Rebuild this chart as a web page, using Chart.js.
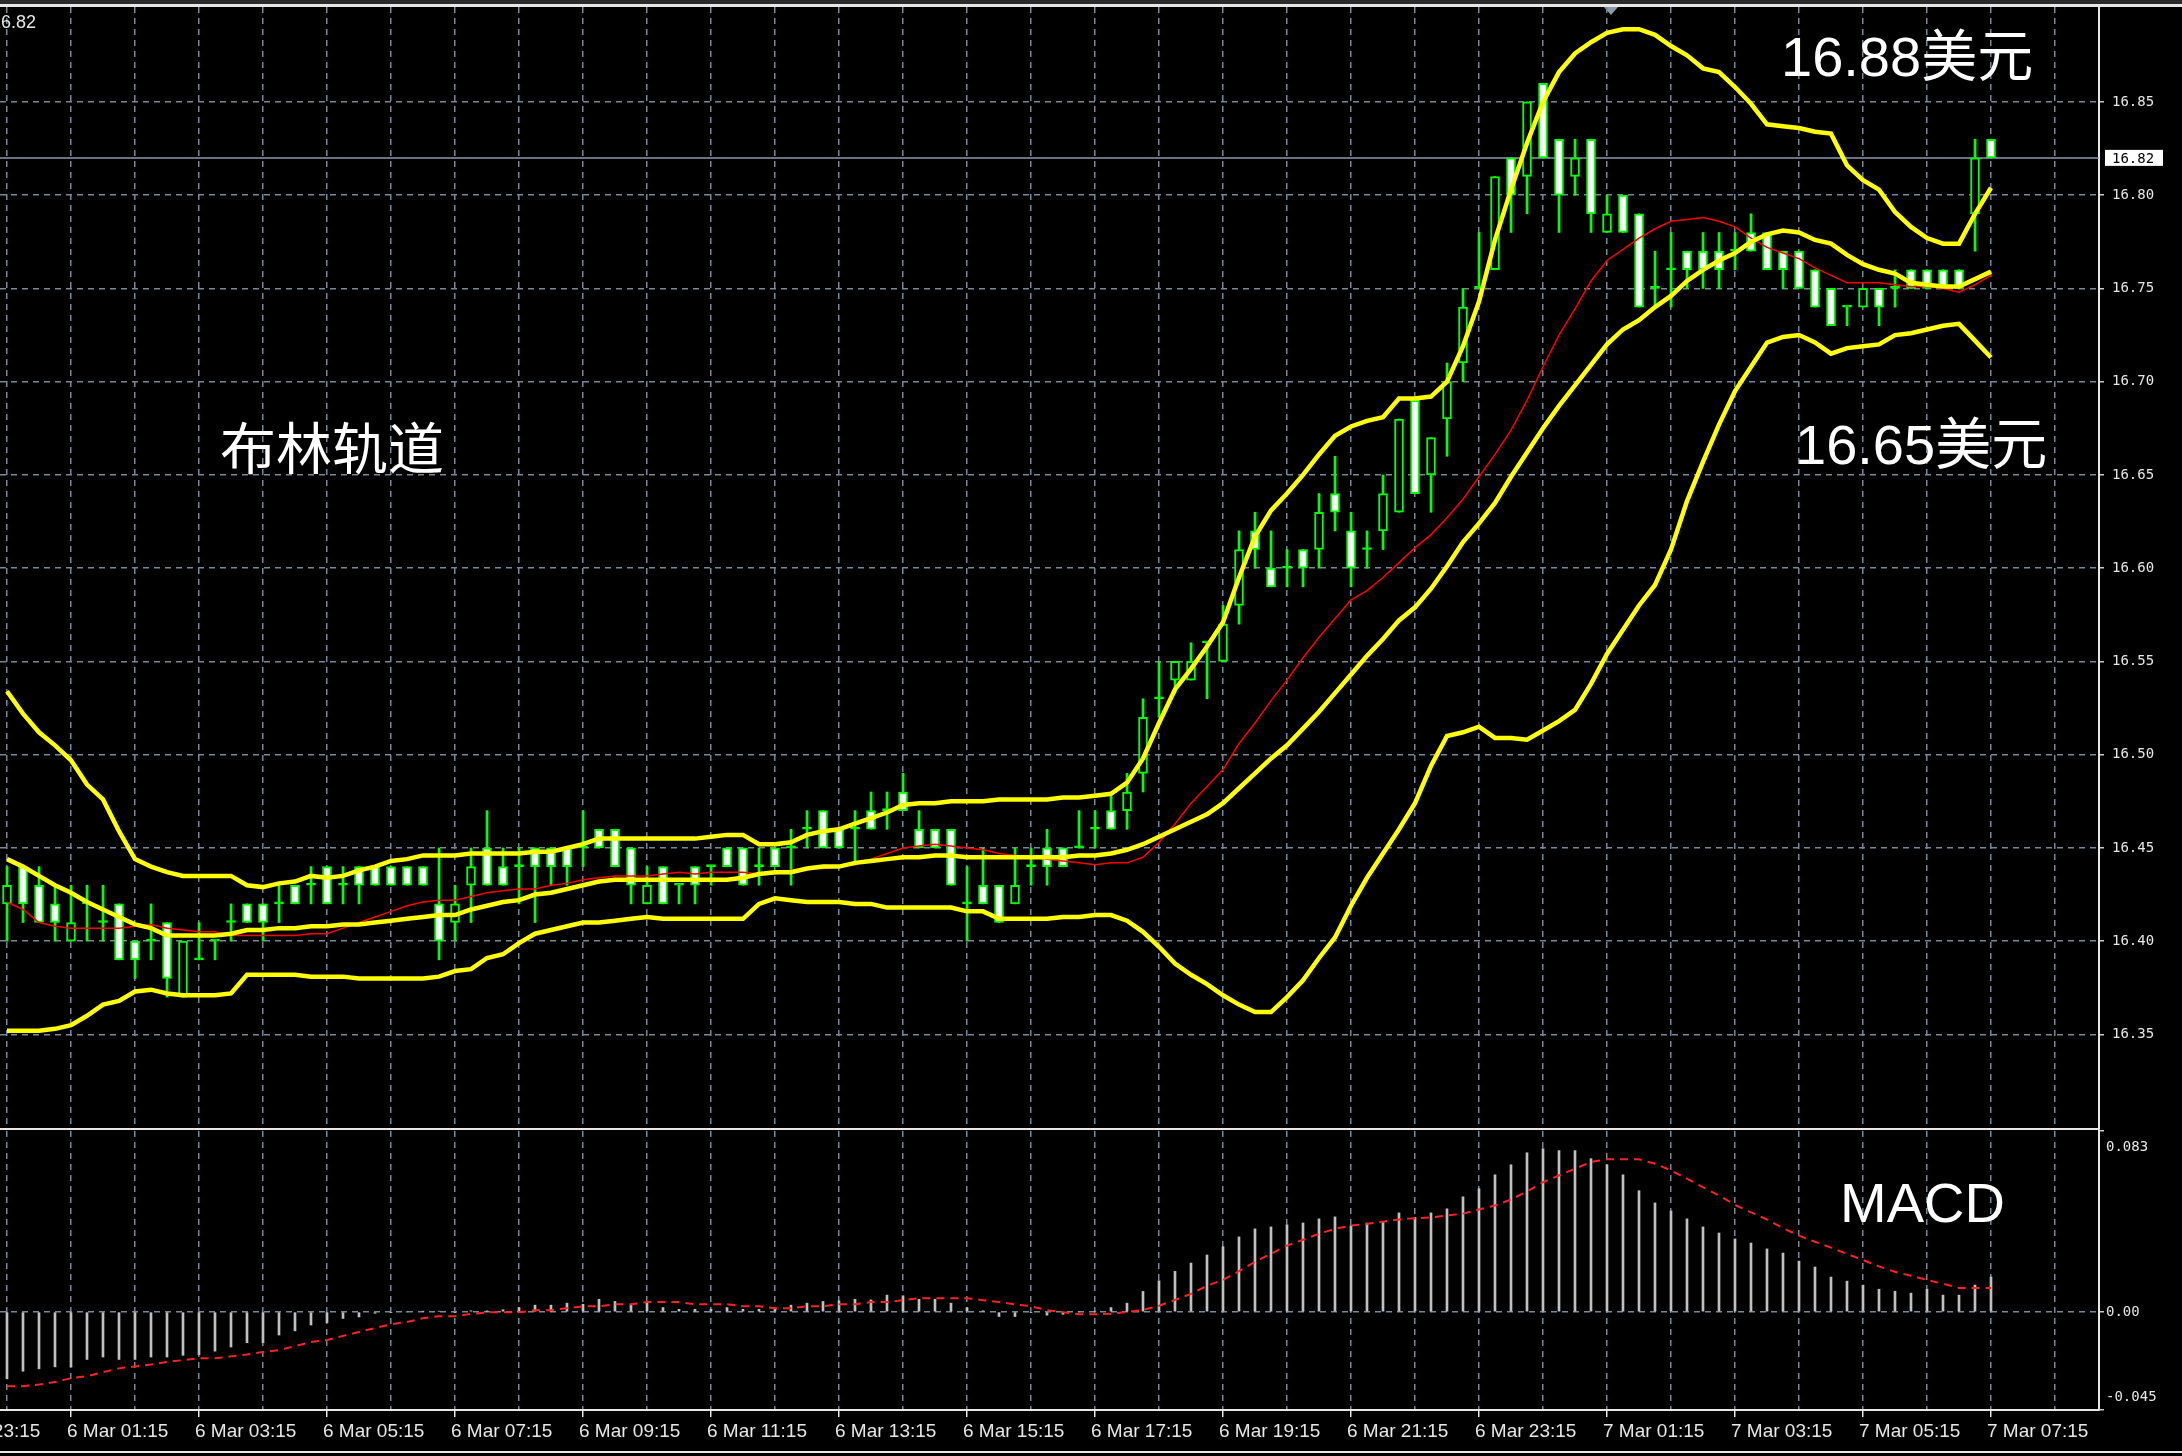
<!DOCTYPE html>
<html>
<head>
<meta charset="utf-8">
<script src="https://cdn.jsdelivr.net/npm/chart.js@4.4.1/dist/chart.umd.min.js"></script>
<style>
  html, body { margin: 0; padding: 0; background: #000; }
  body { width: 2182px; height: 1456px; position: relative; overflow: hidden; }
  canvas { position: absolute; left: 0; }
  #priceCanvas { top: 0; }
  #macdCanvas { top: 1130px; }
  .topbar { position: absolute; left: 0; top: 0; width: 2182px; height: 4px; background: #2b2b2b; }
  .topline { position: absolute; left: 0; top: 4px; width: 2182px; height: 3px; background: #e6e6e6; }
  .bottomline { position: absolute; left: 0; top: 1451px; width: 2182px; height: 2px; background: #e6e6e6; }
  .marker { position: absolute; left: 1604px; top: 7px; width: 0; height: 0;
            border-left: 7px solid transparent; border-right: 7px solid transparent; border-top: 8px solid #8a9aab; }
  .note { position: absolute; color: #fff; white-space: nowrap; line-height: 1; z-index: 5;
          font-family: "Liberation Sans", "Noto Sans CJK SC", sans-serif; font-size: 56px; }
  .corner { position: absolute; left: -9px; top: 13px; color: #e6e6e6; z-index: 5;
            font-family: "Liberation Sans", sans-serif; font-size: 18px; line-height: 1; }
</style>
</head>
<body>
<div class="topbar"></div>
<div class="topline"></div>
<div class="marker"></div>
<canvas id="priceCanvas" width="2182" height="1130"></canvas>
<canvas id="macdCanvas" width="2182" height="326"></canvas>
<div class="bottomline"></div>
<div class="corner">16.82</div>
<div class="note" style="left:220px; top:417px; font-family:'Noto Sans CJK SC', sans-serif;">布林轨道</div>
<div class="note" style="left:1781px; top:29px;">16.88美元</div>
<div class="note" style="left:1795px; top:417px;">16.65美元</div>
<div class="note" style="left:1840px; top:1175px;">MACD</div>
<script>
// 15 minute bars, bar 0 = 6 Mar 00:15, bar 124 = 7 Mar 07:15
const opens = [
  16.42, 16.44, 16.43, 16.42, 16.40, 16.42, 16.41, 16.42, 16.40, 16.40,
  16.41, 16.37, 16.39, 16.40, 16.41, 16.42, 16.42, 16.42, 16.43, 16.43,
  16.44, 16.43, 16.44, 16.44, 16.44, 16.44, 16.44, 16.42, 16.41, 16.43,
  16.45, 16.44, 16.44, 16.45, 16.45, 16.45, 16.45, 16.46, 16.46, 16.45,
  16.42, 16.44, 16.43, 16.44, 16.44, 16.45, 16.45, 16.44, 16.45, 16.45,
  16.46, 16.47, 16.46, 16.46, 16.47, 16.47, 16.48, 16.46, 16.46, 16.46,
  16.42, 16.43, 16.43, 16.42, 16.44, 16.45, 16.45, 16.45, 16.46, 16.47,
  16.47, 16.49, 16.53, 16.54, 16.54, 16.56, 16.55, 16.58, 16.62, 16.60,
  16.60, 16.61, 16.61, 16.64, 16.62, 16.61, 16.62, 16.63, 16.69, 16.65,
  16.68, 16.71, 16.75, 16.76, 16.82, 16.81, 16.86, 16.83, 16.81, 16.83,
  16.78, 16.80, 16.79, 16.75, 16.76, 16.77, 16.77, 16.77, 16.77, 16.78,
  16.78, 16.77, 16.77, 16.76, 16.75, 16.74, 16.74, 16.75, 16.75, 16.76,
  16.76, 16.76, 16.76, 16.79, 16.83
];
const highs = [
  16.44, 16.44, 16.44, 16.43, 16.43, 16.43, 16.43, 16.42, 16.40, 16.42,
  16.41, 16.40, 16.41, 16.40, 16.42, 16.42, 16.42, 16.43, 16.43, 16.44,
  16.44, 16.44, 16.44, 16.44, 16.44, 16.44, 16.44, 16.45, 16.43, 16.45,
  16.47, 16.45, 16.45, 16.45, 16.45, 16.45, 16.47, 16.46, 16.46, 16.45,
  16.44, 16.44, 16.43, 16.44, 16.44, 16.45, 16.45, 16.45, 16.45, 16.46,
  16.47, 16.47, 16.46, 16.47, 16.48, 16.48, 16.49, 16.47, 16.46, 16.46,
  16.44, 16.45, 16.43, 16.45, 16.45, 16.46, 16.45, 16.47, 16.47, 16.48,
  16.49, 16.53, 16.55, 16.55, 16.56, 16.56, 16.58, 16.62, 16.63, 16.62,
  16.61, 16.61, 16.64, 16.66, 16.63, 16.62, 16.65, 16.68, 16.69, 16.67,
  16.71, 16.75, 16.78, 16.81, 16.82, 16.85, 16.86, 16.83, 16.83, 16.83,
  16.80, 16.80, 16.79, 16.77, 16.78, 16.77, 16.78, 16.78, 16.78, 16.79,
  16.78, 16.77, 16.77, 16.76, 16.75, 16.74, 16.75, 16.75, 16.76, 16.76,
  16.76, 16.76, 16.76, 16.83, 16.83
];
const lows = [
  16.40, 16.41, 16.41, 16.40, 16.40, 16.40, 16.40, 16.39, 16.38, 16.39,
  16.37, 16.37, 16.39, 16.39, 16.40, 16.41, 16.40, 16.41, 16.42, 16.42,
  16.42, 16.42, 16.42, 16.43, 16.43, 16.43, 16.43, 16.39, 16.40, 16.41,
  16.43, 16.43, 16.42, 16.41, 16.43, 16.43, 16.44, 16.45, 16.44, 16.42,
  16.42, 16.42, 16.42, 16.42, 16.43, 16.44, 16.43, 16.43, 16.44, 16.43,
  16.45, 16.45, 16.45, 16.443, 16.46, 16.46, 16.47, 16.45, 16.45, 16.43,
  16.40, 16.42, 16.41, 16.42, 16.43, 16.43, 16.44, 16.45, 16.45, 16.46,
  16.46, 16.48, 16.52, 16.533, 16.54, 16.53, 16.55, 16.57, 16.60, 16.59,
  16.59, 16.59, 16.60, 16.62, 16.59, 16.60, 16.61, 16.63, 16.64, 16.63,
  16.66, 16.70, 16.75, 16.76, 16.78, 16.79, 16.82, 16.78, 16.80, 16.78,
  16.78, 16.78, 16.74, 16.74, 16.74, 16.75, 16.75, 16.75, 16.76, 16.77,
  16.76, 16.75, 16.75, 16.74, 16.73, 16.73, 16.74, 16.73, 16.74, 16.75,
  16.75, 16.75, 16.75, 16.77, 16.82
];
const closes = [
  16.43, 16.42, 16.41, 16.41, 16.41, 16.42, 16.41, 16.39, 16.39, 16.40,
  16.38, 16.40, 16.39, 16.40, 16.41, 16.41, 16.41, 16.42, 16.42, 16.43,
  16.42, 16.43, 16.43, 16.43, 16.43, 16.43, 16.43, 16.40, 16.42, 16.44,
  16.43, 16.43, 16.44, 16.44, 16.44, 16.44, 16.45, 16.45, 16.44, 16.43,
  16.43, 16.42, 16.43, 16.43, 16.44, 16.44, 16.43, 16.44, 16.44, 16.45,
  16.46, 16.45, 16.45, 16.46, 16.46, 16.47, 16.47, 16.45, 16.45, 16.43,
  16.42, 16.42, 16.41, 16.43, 16.44, 16.44, 16.44, 16.45, 16.46, 16.46,
  16.48, 16.52, 16.53, 16.55, 16.55, 16.56, 16.57, 16.61, 16.61, 16.59,
  16.60, 16.60, 16.63, 16.63, 16.60, 16.61, 16.64, 16.68, 16.64, 16.67,
  16.70, 16.74, 16.75, 16.81, 16.80, 16.85, 16.82, 16.80, 16.82, 16.79,
  16.79, 16.78, 16.74, 16.75, 16.76, 16.76, 16.76, 16.76, 16.77, 16.77,
  16.76, 16.76, 16.75, 16.74, 16.73, 16.74, 16.75, 16.74, 16.75, 16.75,
  16.75, 16.75, 16.75, 16.82, 16.82
];
const bandUpper = [
  16.534, 16.522, 16.512, 16.505, 16.497, 16.484, 16.476, 16.459, 16.444, 16.440,
  16.437, 16.435, 16.435, 16.435, 16.435, 16.430, 16.429, 16.431, 16.432, 16.435,
  16.434, 16.435, 16.438, 16.440, 16.443, 16.444, 16.446, 16.446, 16.446, 16.447,
  16.447, 16.447, 16.447, 16.448, 16.448, 16.450, 16.452, 16.455, 16.455, 16.455,
  16.455, 16.455, 16.455, 16.455, 16.456, 16.457, 16.457, 16.452, 16.452, 16.453,
  16.457, 16.459, 16.460, 16.463, 16.466, 16.469, 16.473, 16.474, 16.474, 16.475,
  16.475, 16.475, 16.476, 16.476, 16.476, 16.476, 16.477, 16.477, 16.478, 16.479,
  16.485, 16.498, 16.517, 16.535, 16.546, 16.558, 16.571, 16.595, 16.617, 16.631,
  16.640, 16.650, 16.661, 16.671, 16.676, 16.679, 16.681, 16.691, 16.691, 16.692,
  16.700, 16.719, 16.743, 16.776, 16.803, 16.828, 16.850, 16.866, 16.876, 16.882,
  16.887, 16.889, 16.889, 16.886, 16.880, 16.875, 16.868, 16.866, 16.858, 16.849,
  16.838, 16.837, 16.836, 16.834, 16.833, 16.816, 16.808, 16.803, 16.791, 16.783,
  16.777, 16.774, 16.774, 16.790, 16.804
];
const bandMiddle = [
  16.444, 16.440, 16.435, 16.430, 16.426, 16.421, 16.417, 16.413, 16.409, 16.407,
  16.403, 16.403, 16.403, 16.403, 16.404, 16.406, 16.406, 16.407, 16.407, 16.408,
  16.408, 16.409, 16.409, 16.410, 16.411, 16.412, 16.413, 16.414, 16.414, 16.417,
  16.419, 16.421, 16.422, 16.425, 16.426, 16.428, 16.430, 16.432, 16.433, 16.433,
  16.433, 16.433, 16.433, 16.433, 16.433, 16.433, 16.434, 16.436, 16.437, 16.437,
  16.439, 16.440, 16.440, 16.442, 16.443, 16.444, 16.445, 16.445, 16.446, 16.446,
  16.445, 16.445, 16.445, 16.445, 16.445, 16.445, 16.445, 16.446, 16.446, 16.447,
  16.449, 16.452, 16.456, 16.460, 16.464, 16.468, 16.474, 16.482, 16.490, 16.498,
  16.505, 16.514, 16.523, 16.533, 16.543, 16.553, 16.562, 16.572, 16.579, 16.589,
  16.601, 16.614, 16.624, 16.635, 16.649, 16.662, 16.675, 16.687, 16.698, 16.709,
  16.720, 16.728, 16.733, 16.740, 16.746, 16.754, 16.760, 16.765, 16.769, 16.775,
  16.779, 16.781, 16.780, 16.776, 16.774, 16.768, 16.763, 16.760, 16.758, 16.753,
  16.752, 16.751, 16.751, 16.755, 16.759
];
const bandLower = [
  16.352, 16.352, 16.352, 16.353, 16.355, 16.360, 16.366, 16.368, 16.373, 16.374,
  16.372, 16.371, 16.371, 16.371, 16.372, 16.382, 16.382, 16.382, 16.382, 16.381,
  16.381, 16.381, 16.380, 16.380, 16.380, 16.380, 16.380, 16.381, 16.384, 16.385,
  16.391, 16.393, 16.399, 16.404, 16.406, 16.408, 16.410, 16.410, 16.411, 16.412,
  16.413, 16.412, 16.412, 16.412, 16.412, 16.412, 16.412, 16.420, 16.423, 16.422,
  16.421, 16.421, 16.421, 16.420, 16.420, 16.418, 16.418, 16.418, 16.418, 16.418,
  16.416, 16.416, 16.412, 16.412, 16.412, 16.412, 16.413, 16.413, 16.414, 16.414,
  16.411, 16.405, 16.397, 16.388, 16.382, 16.377, 16.371, 16.366, 16.362, 16.362,
  16.370, 16.379, 16.391, 16.402, 16.419, 16.434, 16.447, 16.460, 16.474, 16.494,
  16.510, 16.512, 16.515, 16.509, 16.509, 16.508, 16.513, 16.518, 16.524, 16.538,
  16.554, 16.567, 16.580, 16.591, 16.610, 16.636, 16.657, 16.677, 16.695, 16.708,
  16.721, 16.724, 16.725, 16.721, 16.715, 16.718, 16.719, 16.720, 16.725, 16.726,
  16.728, 16.730, 16.731, 16.722, 16.713
];
const redAverage = [
  16.421, 16.417, 16.410, 16.408, 16.407, 16.407, 16.407, 16.407, 16.408, 16.409,
  16.407, 16.406, 16.405, 16.405, 16.403, 16.403, 16.403, 16.403, 16.403, 16.404,
  16.404, 16.407, 16.410, 16.413, 16.416, 16.419, 16.421, 16.422, 16.422, 16.424,
  16.426, 16.427, 16.428, 16.428, 16.430, 16.431, 16.433, 16.434, 16.435, 16.435,
  16.435, 16.436, 16.437, 16.436, 16.437, 16.437, 16.437, 16.436, 16.436, 16.438,
  16.439, 16.439, 16.440, 16.441, 16.444, 16.447, 16.450, 16.451, 16.452, 16.451,
  16.450, 16.449, 16.447, 16.446, 16.445, 16.444, 16.443, 16.442, 16.441, 16.442,
  16.442, 16.445, 16.453, 16.463, 16.474, 16.483, 16.492, 16.506, 16.517, 16.529,
  16.540, 16.552, 16.563, 16.573, 16.583, 16.588, 16.595, 16.603, 16.611, 16.618,
  16.627, 16.637, 16.649, 16.661, 16.674, 16.690, 16.708, 16.725, 16.739, 16.754,
  16.765, 16.771, 16.777, 16.782, 16.786, 16.787, 16.788, 16.786, 16.783, 16.777,
  16.772, 16.769, 16.766, 16.761, 16.757, 16.753, 16.753, 16.753, 16.752, 16.751,
  16.751, 16.750, 16.748, 16.752, 16.757
];
const macdHist = [
  -0.0307, -0.0272, -0.0261, -0.0252, -0.0252, -0.0218, -0.0207, -0.0218, -0.0218, -0.0207,
  -0.0207, -0.0199, -0.0196, -0.0180, -0.0161, -0.0141, -0.0141, -0.0106, -0.0087, -0.0060,
  -0.0049, -0.0030, -0.0023, -0.0006, -0.0003, 0.0000, 0.0003, 0.0003, -0.0003, 0.0005,
  0.0005, 0.0010, 0.0020, 0.0031, 0.0031, 0.0040, 0.0035, 0.0058, 0.0048, 0.0031,
  0.0043, 0.0020, 0.0012, 0.0012, 0.0012, 0.0020, 0.0012, 0.0012, 0.0012, 0.0031,
  0.0040, 0.0048, 0.0051, 0.0058, 0.0055, 0.0077, 0.0074, 0.0058, 0.0058, 0.0040,
  0.0020, 0.0005, -0.0021, -0.0021, -0.0003, -0.0015, -0.0011, 0.0000, 0.0003, 0.0020,
  0.0040, 0.0094, 0.0143, 0.0186, 0.0224, 0.0261, 0.0299, 0.0344, 0.0381, 0.0390,
  0.0399, 0.0408, 0.0427, 0.0436, 0.0396, 0.0408, 0.0411, 0.0454, 0.0434, 0.0454,
  0.0473, 0.0528, 0.0565, 0.0629, 0.0675, 0.0730, 0.0749, 0.0740, 0.0740, 0.0703,
  0.0675, 0.0629, 0.0556, 0.0500, 0.0463, 0.0427, 0.0390, 0.0362, 0.0335, 0.0316,
  0.0289, 0.0270, 0.0233, 0.0206, 0.0160, 0.0141, 0.0123, 0.0104, 0.0095, 0.0086,
  0.0104, 0.0077, 0.0077, 0.0123, 0.0160
];
const macdSignal = [
  -0.0341, -0.0341, -0.0333, -0.0322, -0.0304, -0.0295, -0.0276, -0.0259, -0.0250, -0.0241,
  -0.0230, -0.0221, -0.0213, -0.0213, -0.0204, -0.0195, -0.0184, -0.0175, -0.0157, -0.0138,
  -0.0129, -0.0110, -0.0092, -0.0074, -0.0057, -0.0046, -0.0029, -0.0020, -0.0020, -0.0009,
  -0.0002, -0.0002, -0.0002, 0.0008, 0.0008, 0.0017, 0.0026, 0.0026, 0.0035, 0.0035,
  0.0045, 0.0045, 0.0045, 0.0035, 0.0035, 0.0035, 0.0026, 0.0026, 0.0017, 0.0017,
  0.0026, 0.0026, 0.0035, 0.0035, 0.0045, 0.0045, 0.0054, 0.0063, 0.0063, 0.0063,
  0.0063, 0.0054, 0.0045, 0.0035, 0.0026, 0.0008, -0.0002, -0.0011, -0.0011, -0.0008,
  0.0000, 0.0009, 0.0028, 0.0055, 0.0083, 0.0120, 0.0147, 0.0187, 0.0230, 0.0267,
  0.0304, 0.0331, 0.0359, 0.0381, 0.0396, 0.0404, 0.0414, 0.0424, 0.0430, 0.0433,
  0.0442, 0.0451, 0.0470, 0.0488, 0.0516, 0.0552, 0.0595, 0.0626, 0.0657, 0.0688,
  0.0700, 0.0700, 0.0700, 0.0680, 0.0649, 0.0611, 0.0572, 0.0534, 0.0491, 0.0457,
  0.0424, 0.0384, 0.0350, 0.0322, 0.0295, 0.0266, 0.0238, 0.0209, 0.0184, 0.0166,
  0.0147, 0.0129, 0.0110, 0.0110, 0.0110
];
const priceTicks = [16.35, 16.40, 16.45, 16.50, 16.55, 16.60, 16.65, 16.70, 16.75, 16.80, 16.85];
const macdTicks = [0.083, 0, -0.045];
const macdTickLabels = ['0.083', '0.00', '-0.045'];
const timeLabelBars = [-4, 4, 12, 20, 28, 36, 44, 52, 60, 68, 76, 84, 92, 100, 108, 116, 124];
const timeLabels = [
  '5 Mar 23:15', '6 Mar 01:15', '6 Mar 03:15', '6 Mar 05:15', '6 Mar 07:15', '6 Mar 09:15',
  '6 Mar 11:15', '6 Mar 13:15', '6 Mar 15:15', '6 Mar 17:15', '6 Mar 19:15', '6 Mar 21:15',
  '6 Mar 23:15', '7 Mar 01:15', '7 Mar 03:15', '7 Mar 05:15', '7 Mar 07:15'
];
const currentPrice = 16.82;

const X_MIN = -0.4375, X_MAX = 130.75;
const PRICE_MIN = 16.2993, PRICE_MAX = 16.9009;
const GRID = '#778899';
const LIME = '#00ff00';
const TEXT = '#e6e6e6';

// one grid line every 4 bars (one hour)
let gridBars = [];
for (let b = -4; b <= 128; b += 4) gridBars.push(b);

const toPoints = (values) => values.map((v, i) => ({x: i, y: v}));

function timeScale(showLabels) {
  return {
    type: 'linear',
    min: X_MIN,
    max: X_MAX,
    offset: false,
    afterBuildTicks: (scale) => { scale.ticks = gridBars.map(v => ({value: v})); },
    afterFit: (scale) => {
      scale.height = showLabels ? 46 : 0;
      scale.paddingLeft = 0; scale.paddingRight = 0;
    },
    ticks: {
      display: showLabels,
      autoSkip: false,
      maxRotation: 0,
      minRotation: 0,
      align: 'start',
      labelOffset: -4,
      padding: 3,
      color: TEXT,
      font: {family: 'Liberation Sans', size: 19},
      callback: (value) => {
        const k = timeLabelBars.indexOf(value);
        return k >= 0 ? timeLabels[k] : '';
      }
    },
    grid: {
      offset: false,
      color: GRID,
      lineWidth: 1.5,
      drawTicks: showLabels,
      tickLength: 7,
      tickWidth: 1.5,
      tickBorderDash: [],
      tickColor: (ctx) => (ctx.tick && timeLabelBars.includes(ctx.tick.value)) ? TEXT : 'rgba(0,0,0,0)'
    },
    border: {display: true, color: TEXT, width: 2, dash: [6, 5]}
  };
}

const priceTag = {
  id: 'priceTag',
  afterDraw(chart) {
    const ctx = chart.ctx;
    const y = chart.scales.y.getPixelForValue(currentPrice);
    const left = chart.chartArea.right + 6;
    ctx.save();
    ctx.fillStyle = '#ffffff';
    ctx.fillRect(left, y - 8, 58, 16);
    ctx.fillStyle = '#000000';
    ctx.font = '14px "DejaVu Sans Mono"';
    ctx.textBaseline = 'middle';
    ctx.fillText(currentPrice.toFixed(2), left + 7, y + 1);
    ctx.restore();
  }
};

const macdAxisText = {
  id: 'macdAxisText',
  afterDraw(chart) {
    const ctx = chart.ctx;
    const area = chart.chartArea;
    const scale = chart.scales.y;
    ctx.save();
    ctx.fillStyle = TEXT;
    ctx.font = '14px "DejaVu Sans Mono"';
    ctx.textBaseline = 'middle';
    macdTicks.forEach((v, k) => {
      let y = scale.getPixelForValue(v);
      y = Math.min(Math.max(y, area.top + 16), area.bottom - 13);
      ctx.fillText(macdTickLabels[k], area.right + 7, y);
    });
    ctx.restore();
  }
};

const bandStyle = {type: 'line', borderColor: '#ffff00', borderWidth: 4.5, pointRadius: 0, tension: 0, order: 1};

new Chart(document.getElementById('priceCanvas'), {
  type: 'bar',
  data: {
    datasets: [
      Object.assign({label: 'upper', data: toPoints(bandUpper)}, bandStyle),
      Object.assign({label: 'middle', data: toPoints(bandMiddle)}, bandStyle),
      Object.assign({label: 'lower', data: toPoints(bandLower)}, bandStyle),
      {
        type: 'line', label: 'ma', data: toPoints(redAverage),
        borderColor: '#ff0000', borderWidth: 1.5, pointRadius: 0, tension: 0, order: 2
      },
      {
        type: 'bar', label: 'bodies',
        data: opens.map((o, i) => ({x: i, y: [Math.min(o, closes[i]), Math.max(o, closes[i])]})),
        backgroundColor: opens.map((o, i) => closes[i] > o ? '#000000' : (closes[i] < o ? '#ffffff' : LIME)),
        borderColor: LIME, borderWidth: 2, borderSkipped: false,
        barThickness: 9, minBarLength: 2, grouped: false, order: 4
      },
      {
        type: 'bar', label: 'wicks',
        data: opens.map((o, i) => ({x: i, y: [lows[i], highs[i]]})),
        backgroundColor: LIME, borderWidth: 0, barThickness: 2, grouped: false, order: 5
      },
      {
        type: 'line', label: 'bid',
        data: [{x: X_MIN, y: currentPrice}, {x: X_MAX, y: currentPrice}],
        borderColor: '#8a9aab', borderWidth: 1.5, pointRadius: 0, order: 6
      }
    ]
  },
  options: {
    responsive: false,
    animation: false,
    devicePixelRatio: 1,
    layout: {padding: {top: 7, left: 0, right: 0, bottom: 1}},
    plugins: {legend: {display: false}, tooltip: {enabled: false}},
    scales: {
      x: timeScale(false),
      y: {
        position: 'right',
        min: PRICE_MIN,
        max: PRICE_MAX,
        afterBuildTicks: (scale) => { scale.ticks = priceTicks.map(v => ({value: v})); },
        afterFit: (scale) => { scale.width = 83; scale.paddingTop = 0; scale.paddingBottom = 0; },
        ticks: {
          color: TEXT,
          font: {family: 'DejaVu Sans Mono', size: 14},
          padding: 8,
          callback: (v) => Number(v).toFixed(2)
        },
        grid: {color: GRID, lineWidth: 1.5, drawTicks: true, tickLength: 5, tickWidth: 1.5, tickColor: '#c8c8c8', tickBorderDash: []},
        border: {display: true, color: TEXT, width: 2, dash: [6, 5]}
      }
    }
  },
  plugins: [priceTag]
});

new Chart(document.getElementById('macdCanvas'), {
  type: 'bar',
  data: {
    datasets: [
      {
        type: 'line', label: 'signal', data: toPoints(macdSignal),
        borderColor: '#ff2020', borderWidth: 2, borderDash: [8, 6], pointRadius: 0, tension: 0, order: 1
      },
      {
        type: 'bar', label: 'macd', data: toPoints(macdHist),
        backgroundColor: '#c0c0c0', borderWidth: 0, barThickness: 2, order: 2
      }
    ]
  },
  options: {
    responsive: false,
    animation: false,
    devicePixelRatio: 1,
    layout: {padding: {top: 1, left: 0, right: 0, bottom: 0}},
    plugins: {legend: {display: false}, tooltip: {enabled: false}},
    scales: {
      x: timeScale(true),
      y: {
        position: 'right',
        min: -0.045,
        max: 0.083,
        afterBuildTicks: (scale) => { scale.ticks = macdTicks.map(v => ({value: v})); },
        afterFit: (scale) => { scale.width = 83; scale.paddingTop = 0; scale.paddingBottom = 0; },
        ticks: {display: false},
        grid: {
          color: (ctx) => (ctx.tick && ctx.tick.value === 0) ? GRID : 'rgba(0,0,0,0)',
          lineWidth: 1.5, drawTicks: true, tickLength: 5, tickWidth: 1.5, tickColor: '#c8c8c8', tickBorderDash: []
        },
        border: {display: true, color: TEXT, width: 2, dash: [6, 5]}
      }
    }
  },
  plugins: [macdAxisText]
});
</script>
</body>
</html>
